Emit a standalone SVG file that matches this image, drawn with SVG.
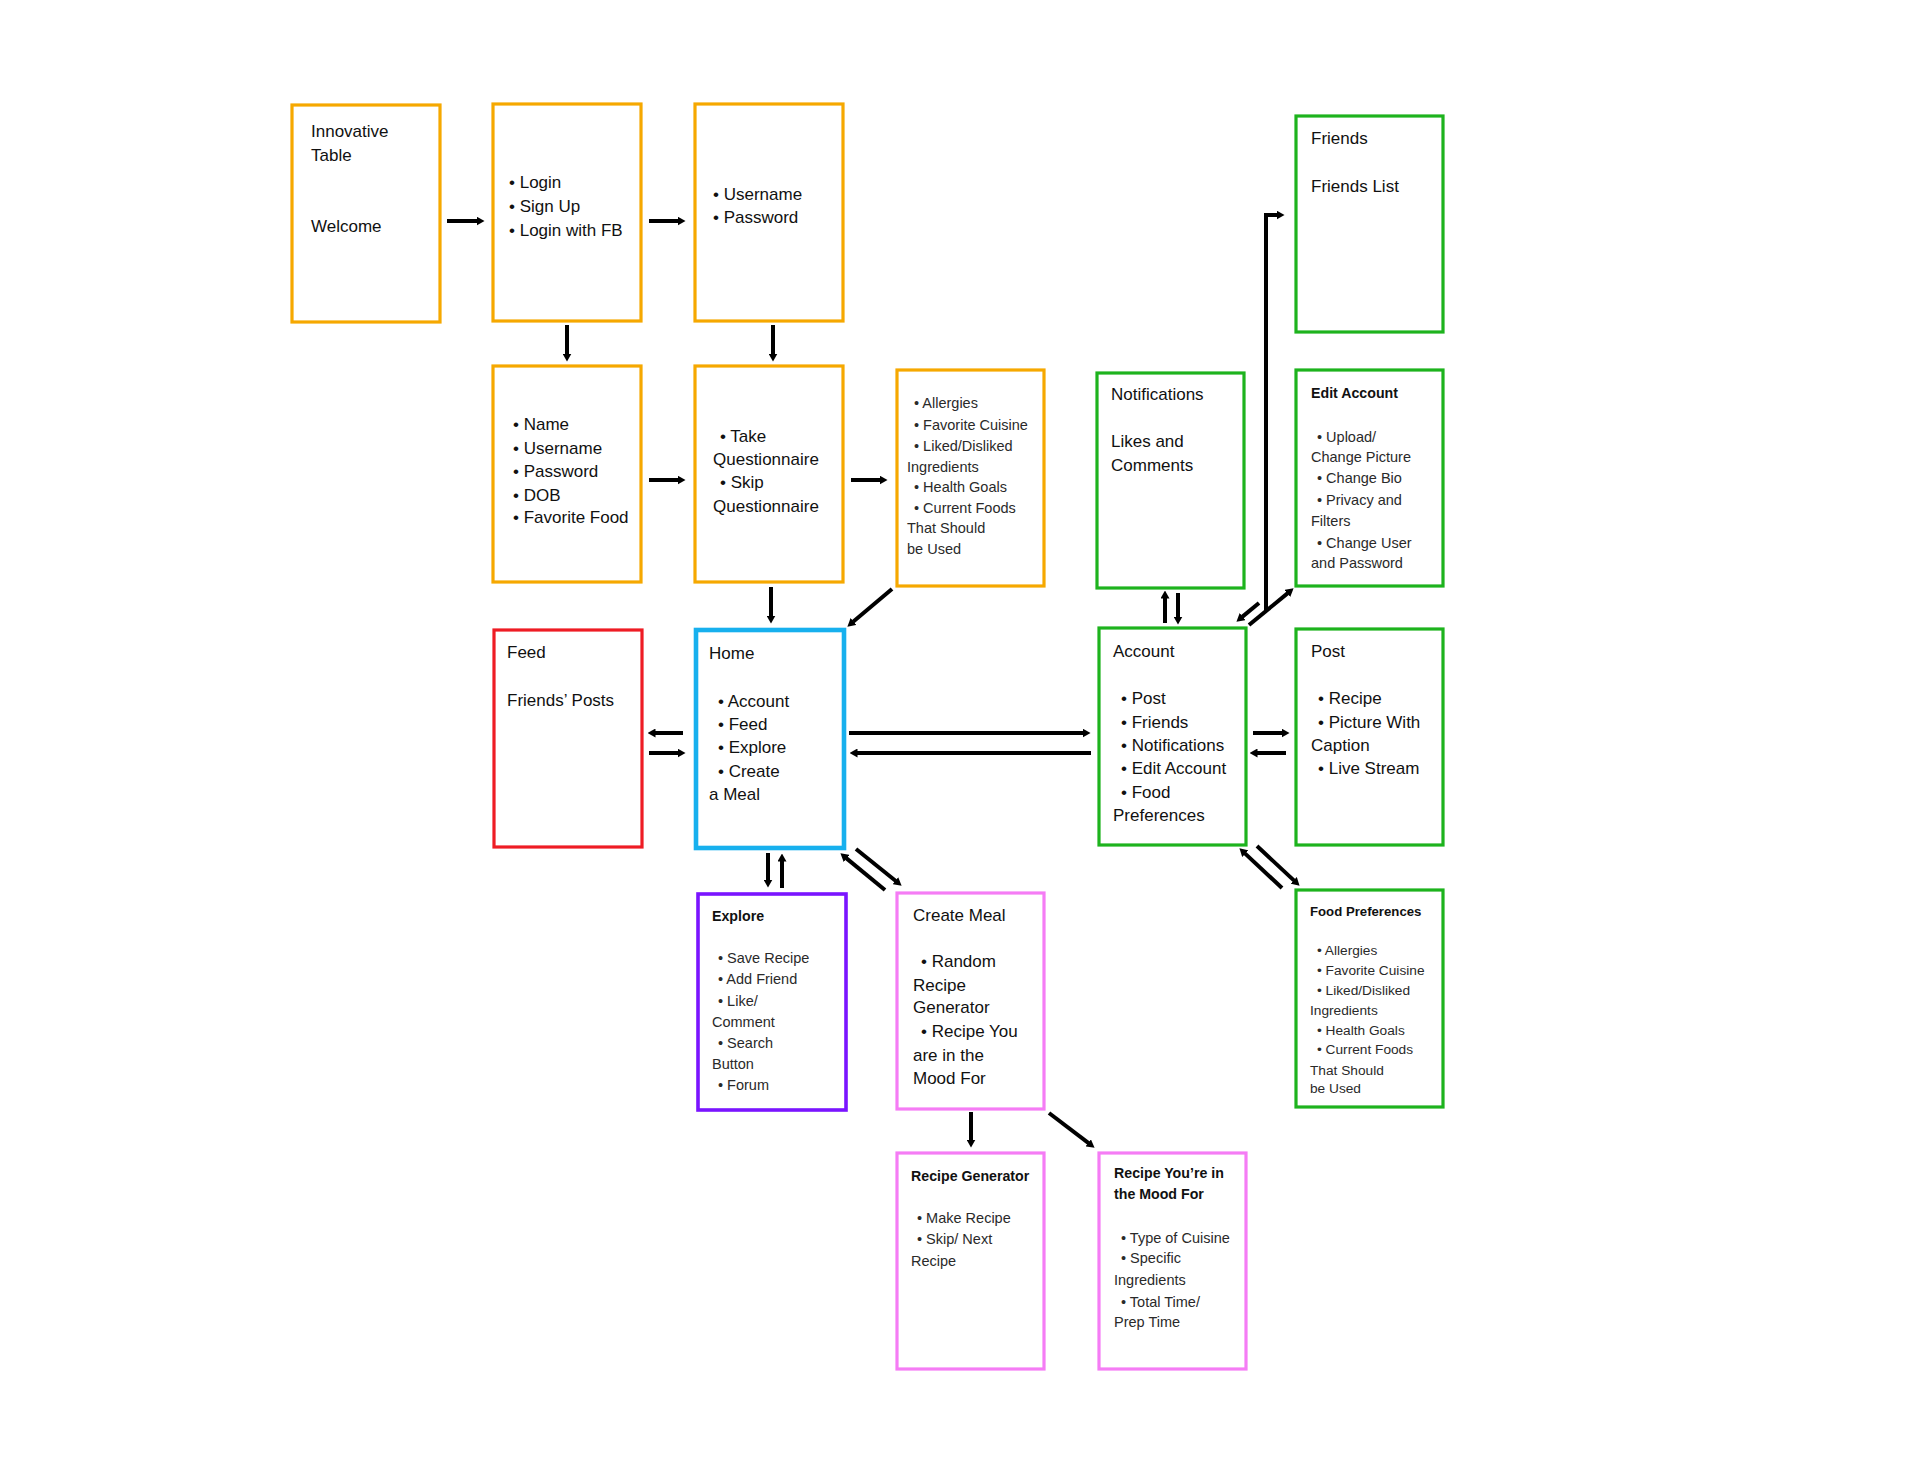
<svg xmlns="http://www.w3.org/2000/svg" width="1920" height="1484" viewBox="0 0 1920 1484">
<style>
  .box { fill: #ffffff; stroke-width: 3.2; }
  .orange { stroke: #f6a800; }
  .green { stroke: #1db31d; }
  .red { stroke: #ee1c24; }
  .blue { stroke: #17b0ee; stroke-width: 4.6; }
  .purple { stroke: #7a14ff; stroke-width: 3.6; }
  .pink { stroke: #f57cf5; }
  text { font-family: "Liberation Sans", Arial, sans-serif; fill: #111111; }
  .t { font-size: 17px; }
  .l { font-size: 14.5px; fill: #2a2a2a; }
  .s { font-size: 13.7px; fill: #2a2a2a; }
  .h { font-size: 14.2px; font-weight: bold; }
  .conn { stroke: #000000; stroke-width: 4; fill: none; marker-end: url(#arrow); }
</style>
<defs>
  <marker id="arrow" viewBox="0 0 8 9" refX="0.5" refY="4.5" markerWidth="8" markerHeight="9" markerUnits="userSpaceOnUse" orient="auto">
    <path d="M0,0 L8,4.5 L0,9 z" fill="#000000"/>
  </marker>
</defs>
<rect x="0" y="0" width="1920" height="1484" fill="#ffffff"/>

<g id="welcome">
  <rect class="box orange" x="292" y="105" width="148" height="217"/>
  <text class="t" x="311" y="137">Innovative</text>
  <text class="t" x="311" y="161">Table</text>
  <text class="t" x="311" y="232">Welcome</text>
</g>
<g id="login">
  <rect class="box orange" x="493" y="104" width="148" height="217"/>
  <text class="t" x="509" y="188">• Login</text>
  <text class="t" x="509" y="212">• Sign Up</text>
  <text class="t" x="509" y="236">• Login with FB</text>
</g>
<g id="credentials">
  <rect class="box orange" x="695" y="104" width="148" height="217"/>
  <text class="t" x="713" y="200">• Username</text>
  <text class="t" x="713" y="223">• Password</text>
</g>
<g id="signup">
  <rect class="box orange" x="493" y="366" width="148" height="216"/>
  <text class="t" x="513" y="430">• Name</text>
  <text class="t" x="513" y="454">• Username</text>
  <text class="t" x="513" y="477">• Password</text>
  <text class="t" x="513" y="501">• DOB</text>
  <text class="t" x="513" y="523">• Favorite Food</text>
</g>
<g id="questionnaire">
  <rect class="box orange" x="695" y="366" width="148" height="216"/>
  <text class="t" x="720" y="442">• Take</text>
  <text class="t" x="713" y="465">Questionnaire</text>
  <text class="t" x="720" y="488">• Skip</text>
  <text class="t" x="713" y="512">Questionnaire</text>
</g>
<g id="questions">
  <rect class="box orange" x="897" y="370" width="147" height="216"/>
  <text class="l" x="914" y="408">• Allergies</text>
  <text class="l" x="914" y="430">• Favorite Cuisine</text>
  <text class="l" x="914" y="451">• Liked/Disliked</text>
  <text class="l" x="907" y="472">Ingredients</text>
  <text class="l" x="914" y="492">• Health Goals</text>
  <text class="l" x="914" y="513">• Current Foods</text>
  <text class="l" x="907" y="533">That Should</text>
  <text class="l" x="907" y="554">be Used</text>
</g>
<g id="notifications">
  <rect class="box green" x="1097" y="373" width="147" height="215"/>
  <text class="t" x="1111" y="400">Notifications</text>
  <text class="t" x="1111" y="447">Likes and</text>
  <text class="t" x="1111" y="471">Comments</text>
</g>
<g id="friends">
  <rect class="box green" x="1296" y="116" width="147" height="216"/>
  <text class="t" x="1311" y="144">Friends</text>
  <text class="t" x="1311" y="192">Friends List</text>
</g>
<g id="editaccount">
  <rect class="box green" x="1296" y="370" width="147" height="216"/>
  <text class="h" x="1311" y="398">Edit Account</text>
  <text class="l" x="1317" y="442">• Upload/</text>
  <text class="l" x="1311" y="462">Change Picture</text>
  <text class="l" x="1317" y="483">• Change Bio</text>
  <text class="l" x="1317" y="505">• Privacy and</text>
  <text class="l" x="1311" y="526">Filters</text>
  <text class="l" x="1317" y="548">• Change User</text>
  <text class="l" x="1311" y="568">and Password</text>
</g>
<g id="feed">
  <rect class="box red" x="494" y="630" width="148" height="217"/>
  <text class="t" x="507" y="658">Feed</text>
  <text class="t" x="507" y="706">Friends’ Posts</text>
</g>
<g id="home">
  <rect class="box blue" x="696" y="630" width="148" height="218"/>
  <text class="t" x="709" y="659">Home</text>
  <text class="t" x="718" y="707">• Account</text>
  <text class="t" x="718" y="730">• Feed</text>
  <text class="t" x="718" y="753">• Explore</text>
  <text class="t" x="718" y="777">• Create</text>
  <text class="t" x="709" y="800">a Meal</text>
</g>
<g id="account">
  <rect class="box green" x="1099" y="628" width="147" height="217"/>
  <text class="t" x="1113" y="657">Account</text>
  <text class="t" x="1121" y="704">• Post</text>
  <text class="t" x="1121" y="728">• Friends</text>
  <text class="t" x="1121" y="751">• Notifications</text>
  <text class="t" x="1121" y="774">• Edit Account</text>
  <text class="t" x="1121" y="798">• Food</text>
  <text class="t" x="1113" y="821">Preferences</text>
</g>
<g id="post">
  <rect class="box green" x="1296" y="629" width="147" height="216"/>
  <text class="t" x="1311" y="657">Post</text>
  <text class="t" x="1318" y="704">• Recipe</text>
  <text class="t" x="1318" y="728">• Picture With</text>
  <text class="t" x="1311" y="751">Caption</text>
  <text class="t" x="1318" y="774">• Live Stream</text>
</g>
<g id="explore">
  <rect class="box purple" x="698" y="894" width="148" height="216"/>
  <text class="h" x="712" y="921">Explore</text>
  <text class="l" x="718" y="963">• Save Recipe</text>
  <text class="l" x="718" y="984">• Add Friend</text>
  <text class="l" x="718" y="1006">• Like/</text>
  <text class="l" x="712" y="1027">Comment</text>
  <text class="l" x="718" y="1048">• Search</text>
  <text class="l" x="712" y="1069">Button</text>
  <text class="l" x="718" y="1090">• Forum</text>
</g>
<g id="createmeal">
  <rect class="box pink" x="897" y="893" width="147" height="216"/>
  <text class="t" x="913" y="921">Create Meal</text>
  <text class="t" x="921" y="967">• Random</text>
  <text class="t" x="913" y="991">Recipe</text>
  <text class="t" x="913" y="1013">Generator</text>
  <text class="t" x="921" y="1037">• Recipe You</text>
  <text class="t" x="913" y="1061">are in the</text>
  <text class="t" x="913" y="1084">Mood For</text>
</g>
<g id="foodpreferences">
  <rect class="box green" x="1296" y="890" width="147" height="217"/>
  <text class="h" x="1310" y="916" style="font-size:13.2px">Food Preferences</text>
  <text class="s" x="1317" y="955">• Allergies</text>
  <text class="s" x="1317" y="975">• Favorite Cuisine</text>
  <text class="s" x="1317" y="995">• Liked/Disliked</text>
  <text class="s" x="1310" y="1015">Ingredients</text>
  <text class="s" x="1317" y="1035">• Health Goals</text>
  <text class="s" x="1317" y="1054">• Current Foods</text>
  <text class="s" x="1310" y="1075">That Should</text>
  <text class="s" x="1310" y="1093">be Used</text>
</g>
<g id="recipegenerator">
  <rect class="box pink" x="897" y="1153" width="147" height="216"/>
  <text class="h" x="911" y="1181">Recipe Generator</text>
  <text class="l" x="917" y="1223">• Make Recipe</text>
  <text class="l" x="917" y="1244">• Skip/ Next</text>
  <text class="l" x="911" y="1266">Recipe</text>
</g>
<g id="moodrecipe">
  <rect class="box pink" x="1099" y="1153" width="147" height="216"/>
  <text class="h" x="1114" y="1178">Recipe You’re in</text>
  <text class="h" x="1114" y="1199">the Mood For</text>
  <text class="l" x="1121" y="1243">• Type of Cuisine</text>
  <text class="l" x="1121" y="1263">• Specific</text>
  <text class="l" x="1114" y="1285">Ingredients</text>
  <text class="l" x="1121" y="1307">• Total Time/</text>
  <text class="l" x="1114" y="1327">Prep Time</text>
</g>

<g id="connectors">
  <path class="conn" d="M447,221 H477"/>
  <path class="conn" d="M649,221 H678"/>
  <path class="conn" d="M567,325 V354"/>
  <path class="conn" d="M773,325 V354"/>
  <path class="conn" d="M649,480 H678"/>
  <path class="conn" d="M851,480 H880"/>
  <path class="conn" d="M771,587 V616"/>
  <path class="conn" d="M892,589 L853.1,621.8"/>
  <path class="conn" d="M683,733 H655"/>
  <path class="conn" d="M649,753 H678"/>
  <path class="conn" d="M849,733 H1083"/>
  <path class="conn" d="M1091,753 H857"/>
  <path class="conn" d="M768,853 V880"/>
  <path class="conn" d="M782,888 V861"/>
  <path class="conn" d="M885,890 L846.2,858.1"/>
  <path class="conn" d="M856,849 L895.8,881"/>
  <path class="conn" d="M971,1112 V1140"/>
  <path class="conn" d="M1049,1113 L1088.6,1143.2"/>
  <path class="conn" d="M1165,623 V598"/>
  <path class="conn" d="M1178,593 V617"/>
  <path class="conn" d="M1259,603 L1242.2,616.9"/>
  <path class="conn" d="M1249,625 L1287.8,593.1"/>
  <path class="conn" d="M1266,610 V215 H1277"/>
  <path class="conn" d="M1253,733 H1282"/>
  <path class="conn" d="M1286,753 H1257"/>
  <path class="conn" d="M1282,888 L1244.9,853.4"/>
  <path class="conn" d="M1257,846 L1294.1,880.6"/>
</g>
</svg>
